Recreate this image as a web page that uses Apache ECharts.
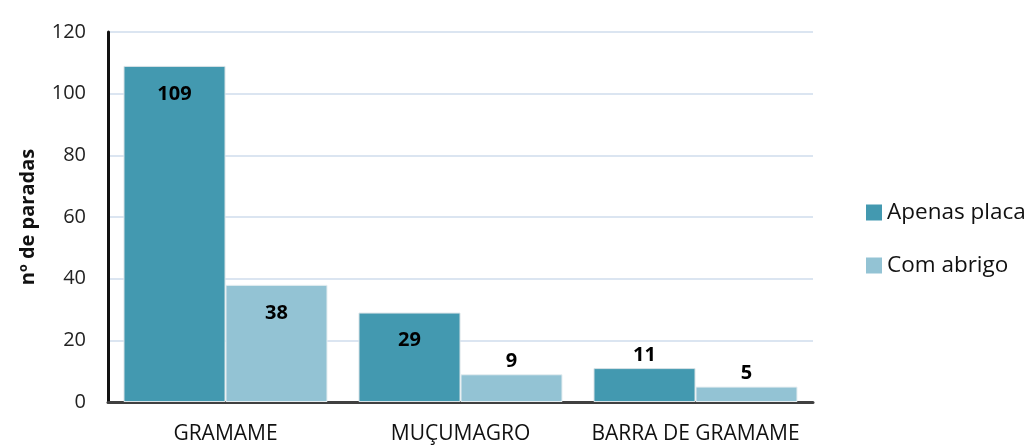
<!DOCTYPE html>
<html><head><meta charset="utf-8">
<script src="https://cdn.jsdelivr.net/npm/echarts@6/dist/echarts.min.js"></script>
<style>html,body{margin:0;padding:0;background:#fff}#c{width:1035px;height:445px}</style>
</head><body><div id="c"></div>
<script>
const categories = ['GRAMAME', 'MUÇUMAGRO', 'BARRA DE GRAMAME'];
const apenasPlaca = [109, 29, 11];
const comAbrigo = [38, 9, 5];
const seriesNames = ['Apenas placa', 'Com abrigo'];
const yTicks = [0, 20, 40, 60, 80, 100, 120];

const font = '"Open Sans", sans-serif';
function labelled(vals, insideMin) {
  return vals.map(v => ({
    value: v,
    label: v >= insideMin
      ? { position: 'insideTop', distance: 18 }
      : { position: 'top', distance: 3 }
  }));
}
const chart = echarts.init(document.getElementById('c'));
chart.setOption({
  animation: false,
  grid: { left: 108, right: 222, top: 32, bottom: 43 },
  legend: {
    orient: 'vertical', left: 861, top: 196, itemGap: 30,
    itemWidth: 16, itemHeight: 16, icon: 'rect',
    itemStyle: { borderWidth: 0 },
    textStyle: { fontFamily: font, fontSize: 22.5, color: '#111' },
    data: seriesNames
  },
  xAxis: {
    type: 'category', data: categories,
    axisLine: { lineStyle: { color: '#404040', width: 3 } },
    axisTick: { show: false },
    axisLabel: { interval: 0, fontFamily: font, fontSize: 21, color: '#111', margin: 22 }
  },
  yAxis: [{
    type: 'value', min: 0, max: yTicks[yTicks.length - 1], interval: 20,
    name: 'nº de paradas', nameLocation: 'middle', nameGap: 70, nameRotate: 90,
    nameTextStyle: { fontFamily: font, fontSize: 20, fontWeight: 'bold', color: '#111' },
    axisLine: { show: false },
    axisTick: { show: false },
    axisLabel: { fontFamily: font, fontSize: 20, color: '#222', margin: 22 },
    splitLine: { lineStyle: { color: '#dbe5f1', width: 2 } }
  }, {
    type: 'value', min: 0, max: 126, position: 'left',
    axisLine: { show: true, lineStyle: { color: '#111', width: 3 } },
    axisTick: { show: false }, axisLabel: { show: false }, splitLine: { show: false }
  }],
  series: [{
    name: seriesNames[0], type: 'bar', data: labelled(apenasPlaca, 20),
    barWidth: 102, barGap: '0%',
    itemStyle: { color: '#4399b0', borderColor: '#d8e2e6', borderWidth: 1 },
    label: { show: true, fontFamily: font, fontSize: 20, fontWeight: 'bold', color: '#000' }
  }, {
    name: seriesNames[1], type: 'bar', data: labelled(comAbrigo, 20),
    barWidth: 102, barGap: '0%',
    itemStyle: { color: '#93c3d4', borderColor: '#e6eef1', borderWidth: 1 },
    label: { show: true, fontFamily: font, fontSize: 20, fontWeight: 'bold', color: '#000' }
  }]
});
</script></body></html>
